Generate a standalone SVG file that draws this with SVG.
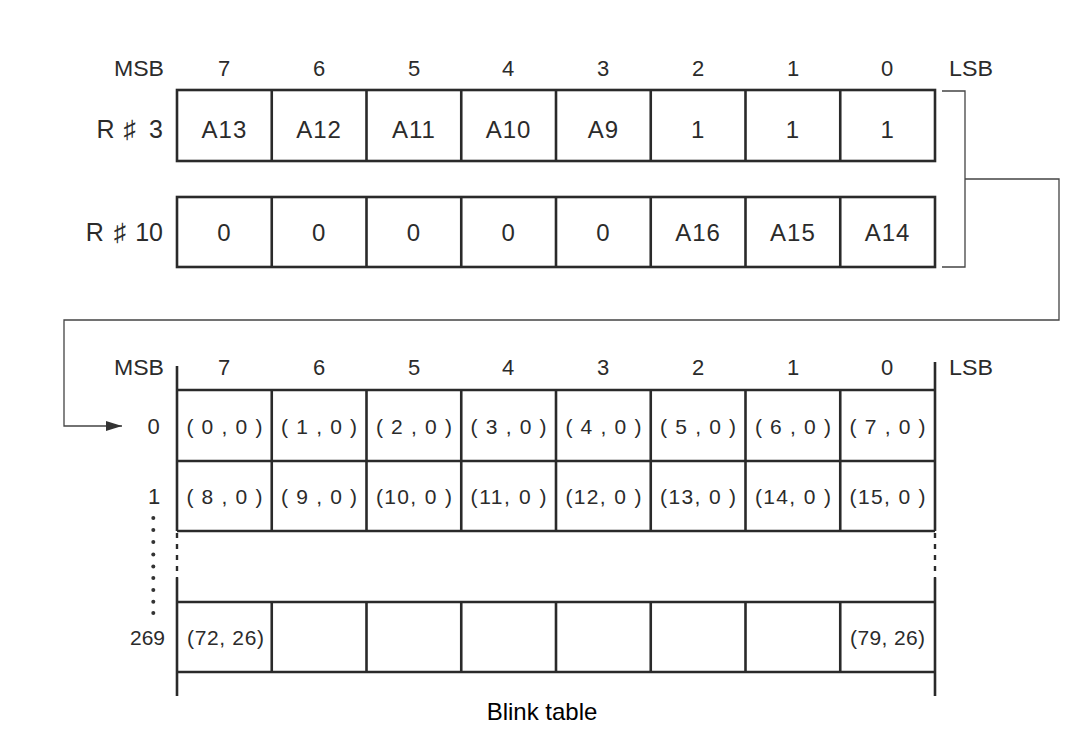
<svg xmlns="http://www.w3.org/2000/svg" width="1083" height="730" viewBox="0 0 1083 730">
<style>
.t{font-family:"Liberation Sans",Arial,sans-serif;fill:#2b2b2b}
.h{font-size:22px;text-anchor:middle}
.c{font-size:24px;text-anchor:middle;letter-spacing:1px}
.s{font-size:21px;text-anchor:middle}
.r{font-size:25px;text-anchor:end}
.box{fill:none;stroke:#2a2a2a;stroke-width:2.6}
.ln{stroke:#2a2a2a;stroke-width:2.6;fill:none}
.dash{stroke:#2a2a2a;stroke-width:2.4;stroke-dasharray:5 6;fill:none}
.con{stroke:#444;stroke-width:1.3;fill:none}
</style>
<defs>
<marker id="ah" viewBox="0 0 16 10" refX="16" refY="5" markerWidth="16" markerHeight="10" markerUnits="userSpaceOnUse" orient="auto">
<path d="M0,0 L16,5 L0,10 Z" fill="#333"/>
</marker>
</defs>

<g id="top-header">
<text class="t h" x="139" y="76" textLength="50" lengthAdjust="spacingAndGlyphs">MSB</text>
<text class="t h" x="224" y="76">7</text>
<text class="t h" x="319" y="76">6</text>
<text class="t h" x="414" y="76">5</text>
<text class="t h" x="508" y="76">4</text>
<text class="t h" x="603" y="76">3</text>
<text class="t h" x="698" y="76">2</text>
<text class="t h" x="793" y="76">1</text>
<text class="t h" x="887" y="76">0</text>
<text class="t h" x="971" y="76" textLength="44" lengthAdjust="spacingAndGlyphs">LSB</text>
</g>

<g id="reg3">
<text class="t r" x="163" y="138">R<tspan dx="9">♯</tspan><tspan dx="13">3</tspan></text>
<rect class="box" x="177" y="90" width="758" height="71"/>
<path class="ln" d="M271.75,90V161M366.5,90V161M461.25,90V161M556,90V161M650.75,90V161M745.5,90V161M840.25,90V161"/>
<text class="t c" x="224.4" y="138">A13</text>
<text class="t c" x="319.1" y="138">A12</text>
<text class="t c" x="413.9" y="138">A11</text>
<text class="t c" x="508.6" y="138">A10</text>
<text class="t c" x="603.4" y="138">A9</text>
<text class="t c" x="698.1" y="138">1</text>
<text class="t c" x="792.9" y="138">1</text>
<text class="t c" x="887.6" y="138">1</text>
</g>

<g id="reg10">
<text class="t r" x="163" y="241">R<tspan dx="10">♯</tspan><tspan dx="9">10</tspan></text>
<rect class="box" x="177" y="197" width="758" height="70"/>
<path class="ln" d="M271.75,197V267M366.5,197V267M461.25,197V267M556,197V267M650.75,197V267M745.5,197V267M840.25,197V267"/>
<text class="t c" x="224.4" y="241">0</text>
<text class="t c" x="319.1" y="241">0</text>
<text class="t c" x="413.9" y="241">0</text>
<text class="t c" x="508.6" y="241">0</text>
<text class="t c" x="603.4" y="241">0</text>
<text class="t c" x="698.1" y="241">A16</text>
<text class="t c" x="792.9" y="241">A15</text>
<text class="t c" x="887.6" y="241">A14</text>
</g>

<g id="connectors">
<path class="con" d="M942,91H965V267H942"/>
<path class="con" d="M965,179H1059V320H64V426H122" marker-end="url(#ah)"/>
</g>

<g id="bottom-header">
<text class="t h" x="139" y="375" textLength="50" lengthAdjust="spacingAndGlyphs">MSB</text>
<text class="t h" x="224" y="375">7</text>
<text class="t h" x="319" y="375">6</text>
<text class="t h" x="414" y="375">5</text>
<text class="t h" x="508" y="375">4</text>
<text class="t h" x="603" y="375">3</text>
<text class="t h" x="698" y="375">2</text>
<text class="t h" x="793" y="375">1</text>
<text class="t h" x="887" y="375">0</text>
<text class="t h" x="971" y="375" textLength="44" lengthAdjust="spacingAndGlyphs">LSB</text>
</g>

<g id="blink-table">
<path class="ln" d="M177,366V531M935,362V531M177,578V696M935,578V696"/>
<path class="dash" d="M177,533V578M935,533V578"/>
<path class="ln" d="M177,390H935M177,461H935M177,531H935M177,602H935M177,672H935"/>
<path class="ln" d="M271.75,390V531M366.5,390V531M461.25,390V531M556,390V531M650.75,390V531M745.5,390V531M840.25,390V531"/>
<path class="ln" d="M271.75,602V672M366.5,602V672M461.25,602V672M556,602V672M650.75,602V672M745.5,602V672M840.25,602V672"/>
</g>

<g id="row0">
<text class="t h" x="153.5" y="434">0</text>
<text class="t s" x="224.4" y="434" textLength="76" lengthAdjust="spacing">( 0 , 0 )</text>
<text class="t s" x="319.1" y="434" textLength="76" lengthAdjust="spacing">( 1 , 0 )</text>
<text class="t s" x="413.9" y="434" textLength="76" lengthAdjust="spacing">( 2 , 0 )</text>
<text class="t s" x="508.6" y="434" textLength="76" lengthAdjust="spacing">( 3 , 0 )</text>
<text class="t s" x="603.4" y="434" textLength="76" lengthAdjust="spacing">( 4 , 0 )</text>
<text class="t s" x="698.1" y="434" textLength="76" lengthAdjust="spacing">( 5 , 0 )</text>
<text class="t s" x="792.9" y="434" textLength="76" lengthAdjust="spacing">( 6 , 0 )</text>
<text class="t s" x="887.6" y="434" textLength="76" lengthAdjust="spacing">( 7 , 0 )</text>
</g>

<g id="row1">
<text class="t h" x="154" y="504">1</text>
<text class="t s" x="224.4" y="504" textLength="76" lengthAdjust="spacing">( 8 , 0 )</text>
<text class="t s" x="319.1" y="504" textLength="76" lengthAdjust="spacing">( 9 , 0 )</text>
<text class="t s" x="413.9" y="504" textLength="76" lengthAdjust="spacing">(10, 0 )</text>
<text class="t s" x="508.6" y="504" textLength="76" lengthAdjust="spacing">(11, 0 )</text>
<text class="t s" x="603.4" y="504" textLength="76" lengthAdjust="spacing">(12, 0 )</text>
<text class="t s" x="698.1" y="504" textLength="76" lengthAdjust="spacing">(13, 0 )</text>
<text class="t s" x="792.9" y="504" textLength="76" lengthAdjust="spacing">(14, 0 )</text>
<text class="t s" x="887.6" y="504" textLength="76" lengthAdjust="spacing">(15, 0 )</text>
</g>

<g id="ellipsis">
<g fill="#333">
<circle cx="153.3" cy="518" r="2"/>
<circle cx="153.3" cy="530" r="2"/>
<circle cx="153.3" cy="542" r="2"/>
<circle cx="153.3" cy="554.5" r="2"/>
<circle cx="153.3" cy="566.5" r="2"/>
<circle cx="153.3" cy="578" r="2"/>
<circle cx="153.3" cy="590" r="2"/>
<circle cx="153.3" cy="601.7" r="2"/>
<circle cx="153.3" cy="613" r="2"/>
</g>
</g>

<g id="row269">
<text class="t" x="165" y="645" font-size="21" text-anchor="end">269</text>
<text class="t s" x="225.5" y="645" textLength="77" lengthAdjust="spacing">(72, 26)</text>
<text class="t s" x="887.6" y="645" textLength="75" lengthAdjust="spacing">(79, 26)</text>
</g>

<text id="caption" x="542" y="720" font-family="'Liberation Sans',Arial,sans-serif" font-size="24" text-anchor="middle" fill="#000">Blink table</text>
</svg>
